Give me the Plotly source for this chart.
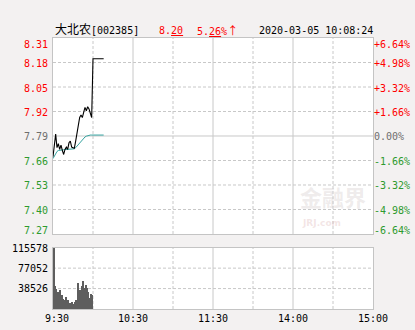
import plotly.graph_objects as go

# ---------------- data ----------------
stock_name = "大北农"
stock_code = "[002385]"
last_price = "8.20"
change_pct = "5.26%"
timestamp = "2020-03-05 10:08:24"
prev_close = 7.79

minutes = list(range(39))  # minutes since 9:30
price = [7.680, 7.746, 7.800, 7.728, 7.749, 7.719, 7.742, 7.714, 7.692, 7.719,
         7.731, 7.719, 7.754, 7.763, 7.731, 7.728, 7.725, 7.763, 7.808, 7.835,
         7.888, 7.902, 7.888, 7.915, 7.942, 7.924, 7.945, 7.934, 7.902, 7.888,
         8.20, 8.20, 8.20, 8.20, 8.20, 8.20, 8.20, 8.20, 8.20]
avg_price = [7.670, 7.685, 7.700, 7.708, 7.713, 7.715, 7.716, 7.717, 7.717, 7.718,
             7.718, 7.719, 7.719, 7.720, 7.720, 7.721, 7.722, 7.728, 7.737, 7.746,
             7.755, 7.764, 7.772, 7.779, 7.785, 7.789, 7.792, 7.794, 7.795, 7.795,
             7.795, 7.795, 7.795, 7.795, 7.795, 7.795, 7.795, 7.795, 7.795]
vol_minutes = list(range(30))
volume = [115578, 43000, 38500, 33000, 21000, 36000, 27000, 19000, 17000, 24000,
          16000, 18000, 12000, 11000, 13000, 10500, 14000, 18000, 50000, 22000,
          37000, 44000, 53000, 40000, 46000, 41000, 33000, 22000, 28000, 27000]

price_ticks = [8.31, 8.18, 8.05, 7.92, 7.79, 7.66, 7.53, 7.40, 7.27]
pct_labels = ["+6.64%", "+4.98%", "+3.32%", "+1.66%", "0.00%", "-1.66%", "-3.32%", "-4.98%", "-6.64%"]
vol_ticks = [115578, 77052, 38526]
time_ticks = [0, 60, 120, 180, 240]
time_labels = ["9:30", "10:30", "11:30", "14:00", "15:00"]
half_hours = [30, 90, 150, 210]
hours = [60, 120, 180]

# ---------------- style ----------------
RED = "#ff0000"
GREEN = "#2e9a2e"
GREY = "#6e6e6e"
GRID = "#c8c8c8"
BORDER = "#c4c4c4"
MONO = "DejaVu Sans Mono, Noto Sans CJK SC"
BG = "#f3f1f1"

def col(v):
    if v > prev_close + 1e-9:
        return RED
    if v < prev_close - 1e-9:
        return GREEN
    return GREY

fig = go.Figure()
fig.add_trace(go.Scatter(x=minutes, y=avg_price, mode="lines",
                         line=dict(color="#35a3a0", width=1), xaxis="x", yaxis="y",
                         hoverinfo="skip"))
fig.add_trace(go.Scatter(x=minutes, y=price, mode="lines",
                         line=dict(color="#000000", width=1.1), xaxis="x", yaxis="y",
                         hoverinfo="skip"))
fig.add_trace(go.Bar(x=vol_minutes, y=volume, width=0.8, offset=0,
                     marker=dict(color="#5e5e5e", line=dict(width=0)),
                     xaxis="x2", yaxis="y3", hoverinfo="skip"))

shapes = []
for v in price_ticks[1:-1]:
    shapes.append(dict(type="line", xref="x domain", yref="y", x0=0, x1=1, y0=v, y1=v,
                       line=dict(color=GRID, width=1,
                                 dash="solid" if abs(v - prev_close) < 1e-9 else "3px,2px"),
                       layer="below"))
for v in vol_ticks[1:]:
    shapes.append(dict(type="line", xref="x2 domain", yref="y3", x0=0, x1=1, y0=v, y1=v,
                       line=dict(color=GRID, width=1, dash="3px,2px"), layer="below"))
for xr, yr in (("x", "y domain"), ("x2", "y3 domain")):
    for t in half_hours:
        shapes.append(dict(type="line", xref=xr, yref=yr, x0=t, x1=t, y0=0, y1=1,
                           line=dict(color=GRID, width=1, dash="3px,2px"), layer="below"))
    for t in hours:
        shapes.append(dict(type="line", xref=xr, yref=yr, x0=t, x1=t, y0=0, y1=1,
                           line=dict(color=GRID, width=1), layer="below"))

ann = []
# faint watermark (drawn first so it stays behind)
ann.append(dict(xref="paper", yref="paper", x=0.875, y=0.418, xanchor="center", yanchor="middle",
                showarrow=False, text="<b>金融界</b>",
                font=dict(family="Noto Sans CJK SC", size=22, color="rgba(200,190,190,0.30)")))
ann.append(dict(xref="paper", yref="paper", x=0.84, y=0.318, xanchor="center", yanchor="middle",
                showarrow=False, text="<b>JRJ.com</b>",
                font=dict(family="DejaVu Sans", size=9, color="rgba(220,180,180,0.35)")))

n = len(price_ticks)
for i, (v, p) in enumerate(zip(price_ticks, pct_labels)):
    ys = -6 if i == 0 else (3 if i == n - 1 else -1)
    ann.append(dict(xref="paper", yref="y", x=0, y=v, text=f"{v:.2f}", showarrow=False,
                    xanchor="right", yanchor="middle", xshift=-3, yshift=ys,
                    font=dict(family=MONO, size=10, color=col(v))))
    ann.append(dict(xref="paper", yref="y", x=1, y=v, text=p, showarrow=False,
                    xanchor="left", yanchor="middle", xshift=-1, yshift=ys,
                    font=dict(family=MONO, size=10, color=col(v))))
for i, v in enumerate(vol_ticks):
    ann.append(dict(xref="paper", yref="y3", x=0, y=v, text=str(v), showarrow=False,
                    xanchor="right", yanchor="middle", xshift=-3, yshift=-1 if i == 0 else 0,
                    font=dict(family=MONO, size=10, color="#000000")))
for t, lab in zip(time_ticks, time_labels):
    ann.append(dict(xref="x2", yref="paper", x=t, y=0, text=lab, showarrow=False,
                    xanchor="center", yanchor="top", yshift=-2, xshift=4 if t == 0 else 0,
                    font=dict(family=MONO, size=10, color="#000000")))
# header
ann.append(dict(xref="paper", yref="paper", x=0, y=1, xanchor="left", yanchor="middle",
                yshift=8, showarrow=False,
                text=f"{stock_name}<span style='font-size:10px'>{stock_code}</span>",
                font=dict(family=MONO, size=12, color="#000000")))
ann.append(dict(xref="paper", yref="paper", x=0.369, y=1, xanchor="center", yanchor="middle",
                yshift=8, showarrow=False, text="8.<u>20</u>",
                font=dict(family=MONO, size=10, color=RED)))
ann.append(dict(xref="paper", yref="paper", x=0.515, y=1, xanchor="center", yanchor="middle",
                yshift=8, showarrow=False,
                text="5.<u>26</u>%<span style='font-family:Noto Sans CJK SC;font-size:11px'>↑</span>",
                font=dict(family=MONO, size=10, color=RED)))
ann.append(dict(xref="paper", yref="paper", x=1.0, y=1, xanchor="right", yanchor="middle",
                yshift=8, xshift=2, showarrow=False, text=timestamp,
                font=dict(family=MONO, size=10, color="#000000")))

axis_common = dict(showline=True, mirror=True, linecolor=BORDER, linewidth=1,
                   showgrid=False, zeroline=False, ticks="", showticklabels=False, fixedrange=True)

fig.update_layout(
    width=415, height=330,
    margin=dict(l=53, r=42, t=38, b=21),
    paper_bgcolor=BG, plot_bgcolor="#ffffff",
    showlegend=False, bargap=0,
    xaxis=dict(domain=[0, 1], range=[0, 240], anchor="y", **axis_common),
    yaxis=dict(domain=[0.2768, 1], range=[7.27, 8.31], anchor="x", **axis_common),
    xaxis2=dict(domain=[0, 1], range=[0, 240], anchor="y3", **axis_common),
    yaxis3=dict(domain=[0, 0.2262], range=[0, 115578], anchor="x2", **axis_common),
    shapes=shapes, annotations=ann,
)

fig.write_html("out.html")
